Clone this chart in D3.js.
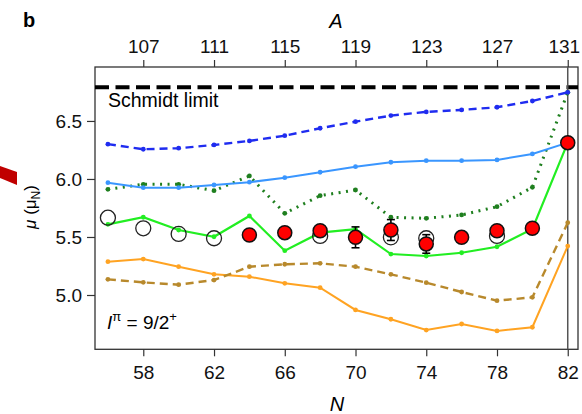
<!DOCTYPE html>
<html>
<head>
<meta charset="utf-8">
<script src="https://cdn.jsdelivr.net/npm/d3@7"></script>
<style>
  body { margin: 0; background: #fff; }
  text { font-family: "Liberation Sans", Arial, sans-serif; }
</style>
</head>
<body>
<svg id="chart"></svg>
<script>
// neutron number of the calculated points (A = N + 49)
const neutrons = [56, 58, 60, 62, 64, 66, 68, 70, 72, 74, 76, 78, 80, 82];

const blueDashed  = [6.300, 6.256, 6.265, 6.293, 6.328, 6.373, 6.437, 6.494, 6.546, 6.578, 6.595, 6.618, 6.672, 6.747];
const lightBlue   = [5.968, 5.925, 5.925, 5.948, 5.972, 6.011, 6.058, 6.106, 6.144, 6.158, 6.158, 6.164, 6.216, 6.313];
const greenDotted = [5.911, 5.954, 5.954, 5.899, 6.026, 5.704, 5.856, 5.905, 5.670, 5.661, 5.690, 5.761, 5.928, 6.747];
const greenSolid  = [5.609, 5.670, 5.560, 5.502, 5.681, 5.382, 5.537, 5.567, 5.353, 5.336, 5.364, 5.416, 5.569, 6.313];
const orangeSolid = [5.287, 5.310, 5.244, 5.178, 5.158, 5.101, 5.063, 4.871, 4.791, 4.698, 4.750, 4.690, 4.722, 5.422];
const goldDashed  = [5.135, 5.109, 5.089, 5.129, 5.244, 5.265, 5.273, 5.244, 5.178, 5.106, 5.026, 4.951, 4.980, 5.623];

// earlier measurements (open circles)
const openN  = [56, 58, 60, 62, 68, 72, 74, 78];
const openMu = [5.666, 5.575, 5.526, 5.489, 5.509, 5.497, 5.489, 5.509];

// this work (red circles)
const redN   = [64, 66, 68, 70, 72, 74, 76, 78, 80, 82];
const redMu  = [5.517, 5.537, 5.554, 5.497, 5.560, 5.440, 5.497, 5.554, 5.575, 6.313];
const redErr = [0.01, 0.01, 0.01, 0.09, 0.09, 0.08, 0.01, 0.01, 0.01, 0.01];

const schmidt = 6.79;
const nTicks = [58, 62, 66, 70, 74, 78, 82];
const aTicks = [107, 111, 115, 119, 123, 127, 131];
const muTicks = [5.0, 5.5, 6.0, 6.5];

const W = 582, H = 414;
const plotL = 95, plotR = 578, plotT = 67, plotB = 349.3;
const font = 19;

const svg = d3.select('#chart')
  .attr('width', W)
  .attr('height', H);

const x = d3.scaleLinear().domain([55.27, 82.58]).range([plotL, plotR]);
const xA = d3.scaleLinear().domain([55.27 + 49, 82.58 + 49]).range([plotL, plotR]);
const y = d3.scaleLinear().domain([4.532, 6.965]).range([plotB, plotT]);

// stray bit of the neighbouring panel
svg.append('polygon')
  .attr('points', '0,166 17,172 17,185 0,178')
  .attr('fill', '#c00000');

const axisColor = '#333';

const bx = svg.append('g')
  .attr('transform', `translate(0,${plotB})`)
  .call(d3.axisBottom(x).tickValues(nTicks).tickSize(7).tickSizeOuter(0).tickPadding(9));

const tx = svg.append('g')
  .attr('transform', `translate(0,${plotT})`)
  .call(d3.axisTop(xA).tickValues(aTicks).tickSize(7).tickSizeOuter(0).tickPadding(7));

const ly = svg.append('g')
  .attr('transform', `translate(${plotL},0)`)
  .call(d3.axisLeft(y).tickValues(muTicks).tickFormat(d3.format('.1f')).tickSize(8).tickSizeOuter(0).tickPadding(5));

[bx, tx, ly].forEach(g => {
  g.select('.domain').remove();
  g.selectAll('line').attr('stroke', axisColor).attr('stroke-width', 1.2);
  g.selectAll('text').attr('fill', '#111').style('font-size', font + 'px')
    .style('font-family', '"Liberation Sans", Arial, sans-serif');
});
// last A label sits against the right edge
tx.selectAll('.tick text').filter(d => d === 131).attr('dx', -4);

// frame
svg.append('rect')
  .attr('x', plotL).attr('y', plotT)
  .attr('width', plotR - plotL).attr('height', plotB - plotT)
  .attr('fill', 'none').attr('stroke', axisColor).attr('stroke-width', 1.3);

// Schmidt limit
svg.append('line')
  .attr('x1', plotL).attr('x2', plotR)
  .attr('y1', y(schmidt)).attr('y2', y(schmidt))
  .attr('stroke', '#000').attr('stroke-width', 4)
  .attr('stroke-dasharray', '14,6.5');

// N = 82 shell closure
svg.append('line')
  .attr('x1', x(82)).attr('x2', x(82))
  .attr('y1', plotT).attr('y2', plotB)
  .attr('stroke', '#555').attr('stroke-width', 1.5);

const series = [
  {vals: orangeSolid, color: '#ffa322', dash: null, w: 2},
  {vals: goldDashed, color: '#b8892c', dash: '8,5', w: 2.4},
  {vals: greenSolid, color: '#22ee22', dash: null, w: 2.2},
  {vals: greenDotted, color: '#1f7f1f', dash: '2,5.5', w: 3},
  {vals: lightBlue, color: '#3a96ff', dash: null, w: 2},
  {vals: blueDashed, color: '#1f2cf0', dash: '8,5', w: 2.4}
];

const line = d3.line()
  .x(d => x(d.n))
  .y(d => y(d.mu));

series.forEach(s => {
  const pts = neutrons.map((n, i) => ({n: n, mu: s.vals[i]}));
  svg.append('path')
    .datum(pts)
    .attr('fill', 'none')
    .attr('stroke', s.color)
    .attr('stroke-width', s.w)
    .attr('stroke-dasharray', s.dash)
    .attr('d', line);
  svg.append('g').selectAll('circle')
    .data(pts)
    .enter()
    .append('circle')
    .attr('cx', d => x(d.n))
    .attr('cy', d => y(d.mu))
    .attr('r', 2.4)
    .attr('fill', s.color);
});

// open circles
svg.append('g').selectAll('circle')
  .data(openN.map((n, i) => ({n: n, mu: openMu[i]})))
  .enter()
  .append('circle')
  .attr('cx', d => x(d.n))
  .attr('cy', d => y(d.mu))
  .attr('r', 7.5)
  .attr('fill', 'none')
  .attr('stroke', '#222')
  .attr('stroke-width', 1.3);

const red = redN.map((n, i) => ({n: n, mu: redMu[i], err: redErr[i]}));

// error bars
const eb = svg.append('g').selectAll('g')
  .data(red)
  .enter()
  .append('g')
  .attr('stroke', '#000')
  .attr('stroke-width', 1.6);
eb.append('line')
  .attr('x1', d => x(d.n)).attr('x2', d => x(d.n))
  .attr('y1', d => y(d.mu - d.err)).attr('y2', d => y(d.mu + d.err));
eb.append('line')
  .attr('x1', d => x(d.n) - 4).attr('x2', d => x(d.n) + 4)
  .attr('y1', d => y(d.mu - d.err)).attr('y2', d => y(d.mu - d.err));
eb.append('line')
  .attr('x1', d => x(d.n) - 4).attr('x2', d => x(d.n) + 4)
  .attr('y1', d => y(d.mu + d.err)).attr('y2', d => y(d.mu + d.err));

svg.append('g').selectAll('circle')
  .data(red)
  .enter()
  .append('circle')
  .attr('cx', d => x(d.n))
  .attr('cy', d => y(d.mu))
  .attr('r', 7)
  .attr('fill', '#ff0000')
  .attr('stroke', '#111')
  .attr('stroke-width', 1.5);

// texts
svg.append('text')
  .attr('x', 23).attr('y', 27)
  .style('font-size', '20px').style('font-weight', 'bold')
  .text('b');

svg.append('text')
  .attr('x', 336).attr('y', 28)
  .attr('text-anchor', 'middle')
  .style('font-size', '20px').style('font-style', 'italic')
  .text('A');

svg.append('text')
  .attr('x', 337).attr('y', 411)
  .attr('text-anchor', 'middle')
  .style('font-size', '20px').style('font-style', 'italic')
  .text('N');

svg.append('text')
  .attr('x', 108).attr('y', 107)
  .style('font-size', '19.5px')
  .text('Schmidt limit');

const spin = svg.append('text')
  .attr('x', 107).attr('y', 329)
  .style('font-size', '19px');
spin.append('tspan').style('font-style', 'italic').text('I');
spin.append('tspan').attr('dy', -8).style('font-size', '13px').text('π');
spin.append('tspan').attr('dy', 8).text(' = 9/2');
spin.append('tspan').attr('dy', -8).style('font-size', '13px').text('+');

const yl = svg.append('text')
  .attr('transform', 'translate(36,207) rotate(-90)')
  .attr('text-anchor', 'middle')
  .style('font-size', '17px');
yl.append('tspan').style('font-style', 'italic').text('μ');
yl.append('tspan').text(' (μ');
yl.append('tspan').attr('dy', 4).style('font-size', '12px').text('N');
yl.append('tspan').attr('dy', -4).text(')');
</script>
</body>
</html>
